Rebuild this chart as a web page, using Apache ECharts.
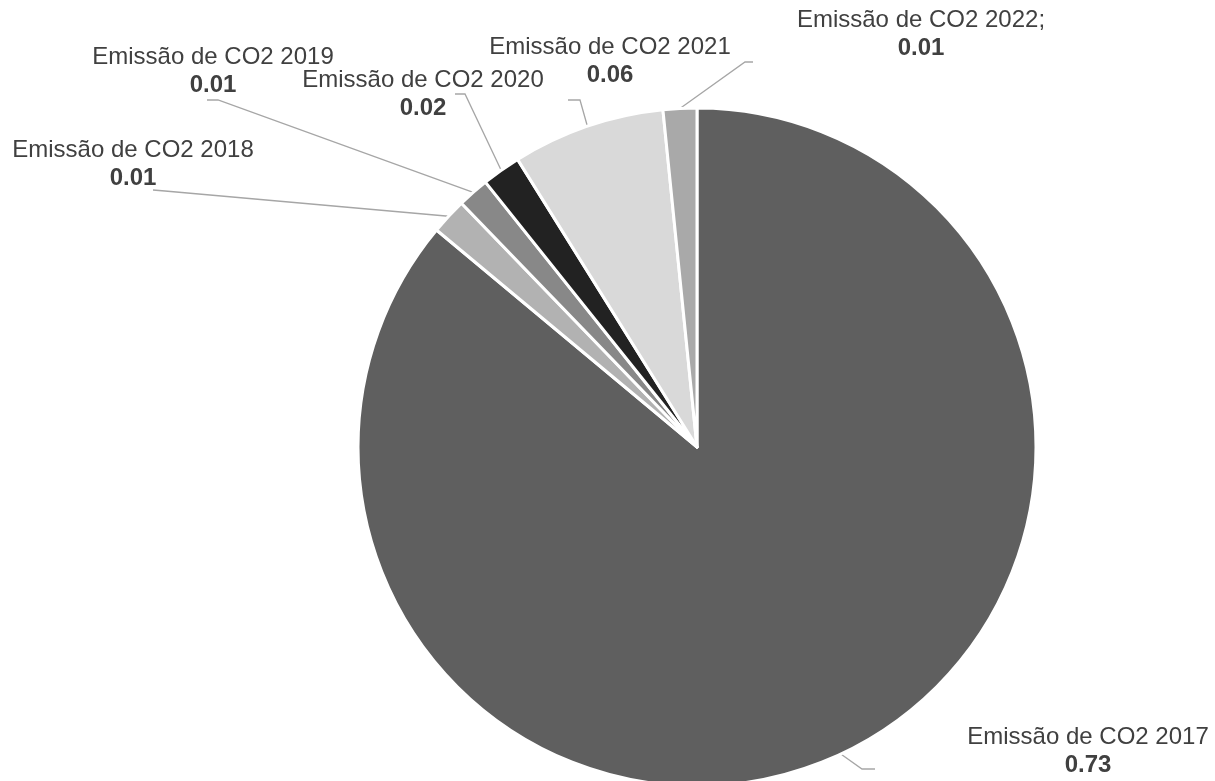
<!DOCTYPE html>
<html>
<head>
<meta charset="utf-8">
<script src="https://cdn.jsdelivr.net/npm/echarts@6/dist/echarts.min.js"></script>
<style>
  html, body { margin: 0; padding: 0; background: #ffffff; }
  #chart { width: 1215px; height: 781px; }
</style>
</head>
<body>
<div id="chart"></div>
<script>
// ---- data ----
const categories = [
  'Emissão de CO2 2017',
  'Emissão de CO2 2018',
  'Emissão de CO2 2019',
  'Emissão de CO2 2020',
  'Emissão de CO2 2021',
  'Emissão de CO2 2022;'
];
const emissions = [0.73, 0.0146, 0.0127, 0.0157, 0.0617, 0.0136];
const sliceColors = ['#5f5f5f', '#b2b2b2', '#888888', '#222222', '#d9d9d9', '#a9a9a9'];

// ---- label layout (positions of label blocks and leader-line elbows) ----
const labelLayoutSpec = [
  { x: 1088, y: 751, elbow: [862, 769], end: [875, 769] },
  { x: 133,  y: 164, elbow: [165, 191], end: [153, 190] },
  { x: 213,  y: 71,  elbow: [218, 100], end: [207, 100] },
  { x: 423,  y: 94,  elbow: [465, 94],  end: [455, 94] },
  { x: 610,  y: 61,  elbow: [580, 100], end: [568, 100] },
  { x: 921,  y: 34,  elbow: [745, 62],  end: [753, 62] }
];

const chart = echarts.init(document.getElementById('chart'), null, { renderer: 'canvas' });

const seriesData = categories.map((c, i) => ({
  name: c,
  value: emissions[i],
  itemStyle: { color: sliceColors[i] }
}));

chart.setOption({
  backgroundColor: '#ffffff',
  animation: false,
  textStyle: { fontFamily: '"Liberation Sans", Arial, sans-serif' },
  series: [{
    type: 'pie',
    center: [697, 447],
    radius: 339,
    startAngle: 90,
    clockwise: true,
    avoidLabelOverlap: false,
    data: seriesData,
    itemStyle: { borderColor: '#ffffff', borderWidth: 3 },
    label: {
      show: true,
      position: 'outside',
      formatter: p => '{n|' + p.name + '}\n{v|' + p.value.toFixed(2) + '}',
      rich: {
        n: { fontSize: 24, color: '#404040', lineHeight: 28, align: 'center', fontFamily: '"Liberation Sans", Arial, sans-serif' },
        v: { fontSize: 24, color: '#404040', fontWeight: 'bold', lineHeight: 28, align: 'center', fontFamily: '"Liberation Sans", Arial, sans-serif' }
      }
    },
    labelLine: {
      show: true,
      length: 10,
      length2: 10,
      lineStyle: { color: '#a6a6a6', width: 1.3 }
    },
    labelLayout: function (p) {
      const s = labelLayoutSpec[p.dataIndex];
      const start = p.labelLinePoints ? p.labelLinePoints[0] : s.elbow;
      return {
        x: s.x,
        y: s.y,
        align: 'center',
        verticalAlign: 'middle',
        labelLinePoints: [start, s.elbow, s.end]
      };
    }
  }]
});
</script>
</body>
</html>
